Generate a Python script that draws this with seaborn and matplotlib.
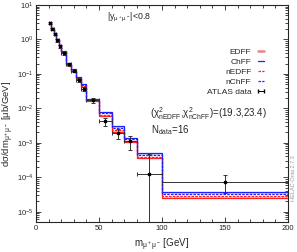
import matplotlib
matplotlib.use('Agg')
import matplotlib.pyplot as plt
import numpy as np
import seaborn as sns
from matplotlib.lines import Line2D
from matplotlib.ticker import MultipleLocator, LogLocator

# bin edges of m(mu+mu-) in GeV
mass_edges = [10, 12, 14, 16, 18, 20, 24, 28, 32, 36, 40, 50, 60, 70, 80, 100, 200]

# ATLAS data, |y|<0.8
atlas_vals = [3.0, 2.05, 1.45, 0.95, 0.63, 0.40, 0.19, 0.125, 0.068, 0.037,
              0.017, 0.0042, 0.0019, 0.0011, 1.2e-4, 7.5e-5]
atlas_errs = [0.25, 0.17, 0.12, 0.08, 0.05, 0.035, 0.018, 0.012, 0.008, 0.005,
              0.0025, 0.0011, 0.0006, 0.0005, 3.4e-4, 4.0e-5]

# predictions
edff = [3.0, 2.05, 1.42, 0.98, 0.66, 0.42, 0.18, 0.118, 0.069, 0.042,
        0.016, 0.0060, 0.0021, 0.00105, 3.5e-4, 2.5e-5]
chff = [3.2, 2.2, 1.52, 1.05, 0.71, 0.45, 0.21, 0.135, 0.080, 0.050,
        0.019, 0.0076, 0.0030, 0.0014, 5.0e-4, 3.6e-5]
nedff = [3.1, 2.1, 1.46, 1.01, 0.68, 0.43, 0.19, 0.122, 0.072, 0.044,
         0.017, 0.0064, 0.0023, 0.00113, 3.8e-4, 2.8e-5]
nchff = [3.1, 2.15, 1.49, 1.03, 0.70, 0.44, 0.20, 0.130, 0.077, 0.048,
         0.018, 0.0071, 0.0027, 0.0013, 4.5e-4, 3.3e-5]

sns.set_style('ticks')
plt.rcParams['font.family'] = ['Liberation Sans', 'DejaVu Sans']
plt.rcParams['mathtext.fontset'] = 'custom'
plt.rcParams['mathtext.rm'] = 'Liberation Sans'
plt.rcParams['mathtext.it'] = 'Liberation Sans'

fig = plt.figure(figsize=(2.97, 2.52), dpi=100)
ax = fig.add_axes([0.121, 0.119, 0.849, 0.861])

edges = np.array(mass_edges, dtype=float)
centers = 0.5 * (edges[:-1] + edges[1:])
halfw = 0.5 * (edges[1:] - edges[:-1])


def _step(vals, color, ls):
    y = np.append(vals, vals[-1])
    sns.lineplot(x=edges, y=y, drawstyle='steps-post', color=color,
                 linestyle=ls, linewidth=0.9, estimator=None, sort=False, ax=ax)


# light bands between the two variants of each form factor
ax.stairs(nedff, edges, baseline=edff, fill=True, color='#ffb0b0', alpha=0.6, lw=0)
ax.stairs(chff, edges, baseline=nchff, fill=True, color='#b0b0ff', alpha=0.6, lw=0)

_step(edff, '#ff2020', '-')
_step(chff, '#2020ff', '-')
_step(nedff, '#ff2020', (0, (2, 1)))
_step(nchff, '#2020ff', (0, (2, 1)))

ax.errorbar(centers, atlas_vals, xerr=halfw, yerr=atlas_errs, fmt='s', ms=2,
            color='black', ecolor='#333333', elinewidth=0.7, capsize=1.5,
            capthick=0.7)

ax.set_yscale('log')
ax.set_xlim(0, 200)
ax.set_ylim(5e-6, 10)
ax.xaxis.set_major_locator(MultipleLocator(50))
ax.xaxis.set_minor_locator(MultipleLocator(10))
ax.yaxis.set_major_locator(LogLocator(base=10, numticks=20))
ax.yaxis.set_minor_locator(LogLocator(base=10, subs=np.arange(2, 10), numticks=20))
ax.tick_params(which='both', direction='in', top=True, right=True, labelsize=5.5,
               width=0.6, pad=2)
ax.tick_params(which='major', length=3.5)
ax.tick_params(which='minor', length=2)
ax.xaxis.get_offset_text().set_visible(False)
ax.yaxis.get_offset_text().set_visible(False)
for s in ax.spines.values():
    s.set_linewidth(0.8)

ax.set_xlabel(r'm$_{\mu^+\mu^-}$ [GeV]', fontsize=7)
ax.set_ylabel(r'd$\sigma$/dm$_{\mu^+\mu^-}$ [$\mu$b/GeV]', fontsize=6.8)
ax.xaxis.set_label_coords(0.5, -0.065)
ax.yaxis.set_label_coords(-0.08, 0.45)

ax.text(0.28, 0.945, r'|y$_{\mu^+\mu^-}$|<0.8', transform=ax.transAxes,
        fontsize=6.3, va='center')
ax.text(0.452, 0.50, r'($\chi^2_{\rm nEDFF}$,$\chi^2_{\rm nChFF}$)=(19.3,23.4)',
        transform=ax.transAxes, fontsize=7, va='center')
ax.text(0.456, 0.425, r'N$_{\rm data}$=16', transform=ax.transAxes,
        fontsize=7, va='center')
ax.text(1.022, 0.2, 'HELAC-Onia 2.7.3', transform=ax.transAxes, rotation=90,
        fontsize=4, color='#999999', va='center', ha='center')

handles = [Line2D([], [], color='#f08080', lw=1.8),
           Line2D([], [], color='#2020ff', lw=0.9),
           Line2D([], [], color='#ff2020', lw=0.9, ls=(0, (2, 1))),
           Line2D([], [], color='#2020ff', lw=0.9, ls=(0, (2, 1))),
           Line2D([], [], color='black', lw=0.7, marker='|', ms=3)]
labels = ['EDFF', 'ChFF', 'nEDFF', 'nChFF', 'ATLAS data']
ax.legend(handles, labels, loc='upper right', bbox_to_anchor=(0.93, 0.82),
          frameon=False, fontsize=6, markerfirst=False, handlelength=1.3,
          handletextpad=0.5, labelspacing=0.25, numpoints=2, borderpad=0)

fig.savefig('out.png', dpi=100)
